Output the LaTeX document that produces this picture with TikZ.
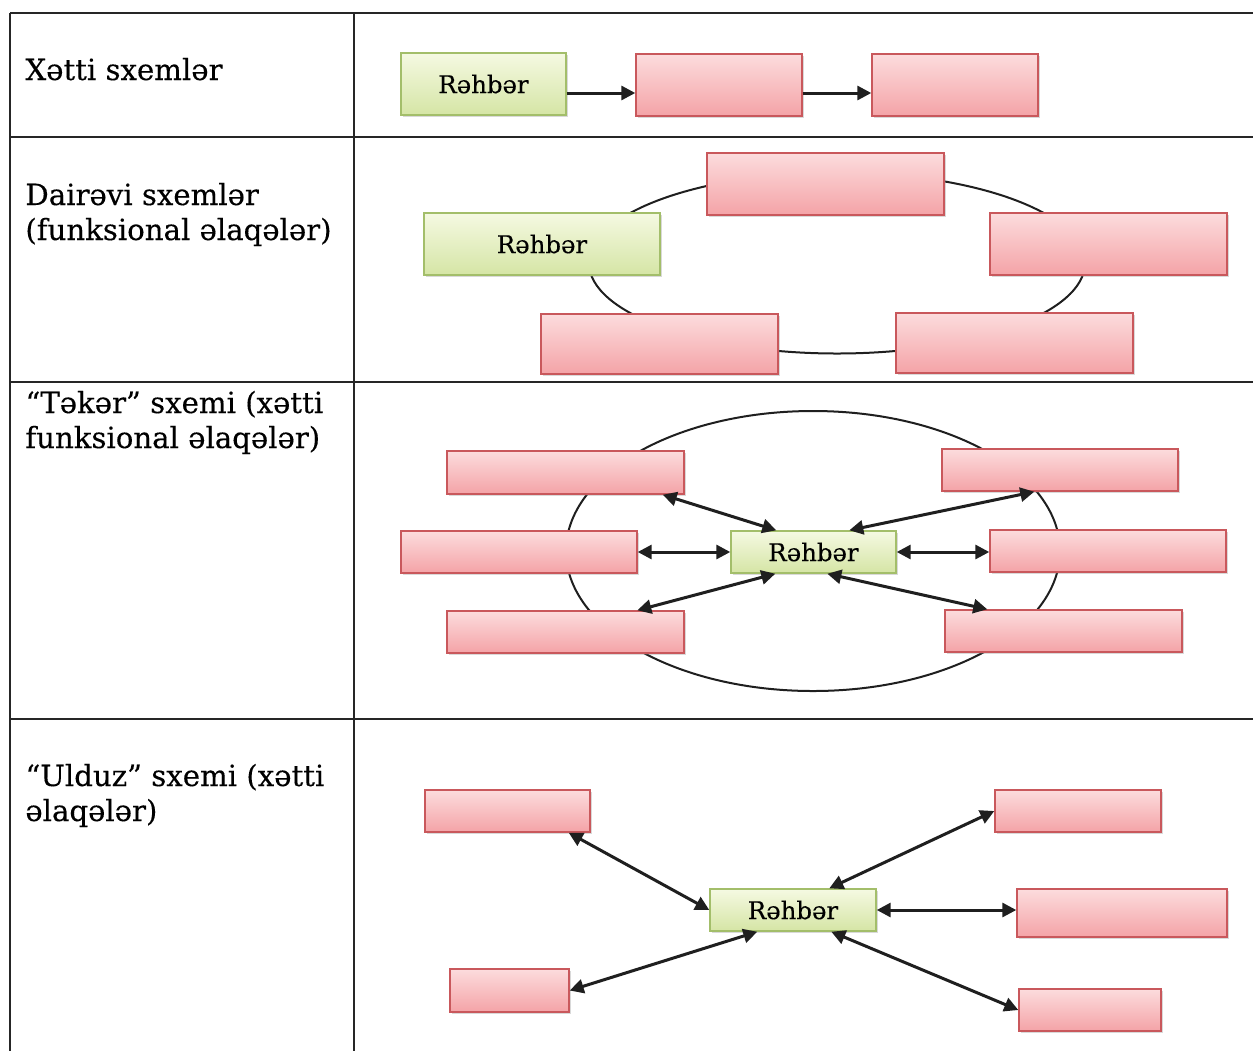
\documentclass[tikz,border=0pt]{standalone}
\usepackage{fontspec}
\setmainfont{DejaVu Serif}
\newfontfamily\heavyserif{DejaVu Serif}[FakeBold=0.3]
\usetikzlibrary{calc,arrows.meta,shadows}
\definecolor{pinkB}{HTML}{C9585C}
\definecolor{pinkT}{HTML}{FCDCDD}
\definecolor{pinkL}{HTML}{F4A3A7}
\definecolor{grnB}{HTML}{A3BE6A}
\definecolor{grnT}{HTML}{F5F9E2}
\definecolor{grnL}{HTML}{D5E5A5}
\tikzset{
  pbox/.style={draw=pinkB, line width=0.7pt, top color=pinkT, bottom color=pinkL, inner sep=0pt,
    drop shadow={shadow xshift=0.8pt, shadow yshift=-1.2pt, opacity=0.3}},
  gbox/.style={draw=grnB, line width=0.7pt, top color=grnT, bottom color=grnL, inner sep=0pt,
    font=\heavyserif\fontsize{12.2}{14}\selectfont,
    drop shadow={shadow xshift=0.8pt, shadow yshift=-1.2pt, opacity=0.3}},
  conn/.style={line width=1.5pt, black!88, {Triangle[length=7pt,width=7pt]}-{Triangle[length=7pt,width=7pt]}},
  oneway/.style={line width=1.5pt, black!88, -{Triangle[length=7pt,width=7pt]}},
  ring/.style={line width=1pt, black!88},
  grid/.style={line width=1pt, black!85},
  lbl/.style={anchor=base west, inner sep=0pt, align=left, font=\heavyserif\fontsize{14.6}{17.5}\selectfont}
}
\newcommand{\bx}[6]{% style, name, x1, y1, x2, y2
  \node[#1, minimum width={(#5-#3)*0.5pt}, minimum height={(#6-#4)*0.5pt}] (#2) at ({(#3+#5)/2},{(#4+#6)/2}) {};}
\newcommand{\gx}[6]{% name, x1, y1, x2, y2, text
  \node[gbox, minimum width={(#4-#2)*0.5pt}, minimum height={(#5-#3)*0.5pt}] (#1) at ({(#2+#4)/2},{(#3+#5)/2}) {#6};}
\begin{document}
\begin{tikzpicture}[x=0.5pt,y=-0.5pt]
\useasboundingbox (0,0) rectangle (1253,1051);
% table
\draw[grid] (10,13) -- (1253,13);
\draw[grid] (10,137) -- (1253,137);
\draw[grid] (10,382) -- (1253,382);
\draw[grid] (10,719) -- (1253,719);
\draw[grid] (10,13) -- (10,1051);
\draw[grid] (354,13) -- (354,1051);
% labels (base = baseline of last line)
\node[lbl] (t1) at (25,80) {Xətti sxemlər};
\node[lbl] (t2) at (25,240) {Dairəvi sxemlər\\(funksional əlaqələr)};
\node[lbl] (t3) at (25,448) {“Təkər” sxemi (xətti\\funksional əlaqələr)};
\node[lbl] (t4) at (25,821) {“Ulduz” sxemi (xətti\\əlaqələr)};
% row 1
\gx{g1}{401}{53}{566}{115}{Rəhbər}
\bx{pbox}{p11}{636}{54}{802}{116}
\bx{pbox}{p12}{872}{54}{1038}{116}
\coordinate (a1) at ($(g1.east)+(0,9)$);
\draw[oneway] (a1) -- (a1 -| p11.west);
\draw[oneway] (a1 -| p11.east) -- (a1 -| p12.west);
% row 2
\draw[ring] (837,263) ellipse [x radius=248, y radius=90.5];
\gx{g2}{424}{213}{660}{275}{Rəhbər}
\bx{pbox}{p21}{707}{153}{944}{215}
\bx{pbox}{p22}{990}{213}{1227}{275}
\bx{pbox}{p23}{541}{314}{778}{374}
\bx{pbox}{p24}{896}{313}{1133}{373}
% row 3
\draw[ring] (813,551) ellipse [x radius=247, y radius=140];
\gx{g3}{731}{531}{896}{573}{Rəhbər}
\bx{pbox}{p31}{447}{451}{684}{494}
\bx{pbox}{p32}{942}{449}{1178}{491}
\bx{pbox}{p33}{401}{531}{637}{573}
\bx{pbox}{p34}{990}{530}{1226}{572}
\bx{pbox}{p35}{447}{611}{684}{653}
\bx{pbox}{p36}{945}{610}{1182}{652}
\draw[conn] ($(p31.south east)+(-22,0)$) -- ($(g3.north west)+(46,0)$);
\draw[conn] ($(p32.south west)+(93,0)$) -- ($(g3.north west)+(119,0)$);
\draw[conn] (p33.east) -- (g3.west);
\draw[conn] (g3.east) -- (g3.east -| p34.west);
\draw[conn] ($(g3.south west)+(45,0)$) -- ($(p35.north west)+(191,0)$);
\draw[conn] ($(g3.south west)+(97,0)$) -- ($(p36.north west)+(43,0)$);
% row 4
\gx{g4}{710}{889}{876}{931}{Rəhbər}
\bx{pbox}{p41}{425}{790}{590}{832}
\bx{pbox}{p42}{995}{790}{1161}{832}
\bx{pbox}{p43}{1017}{889}{1227}{937}
\bx{pbox}{p44}{450}{969}{569}{1012}
\bx{pbox}{p45}{1019}{989}{1161}{1031}
\draw[conn] ($(p41.south east)+(-22,0)$) -- (g4.west);
\draw[conn] (p42.west) -- ($(g4.north west)+(120,0)$);
\draw[conn] (g4.east) -- (g4.east -| p43.west);
\draw[conn] (p44.east) -- ($(g4.south west)+(48,0)$);
\draw[conn] ($(g4.south west)+(122,0)$) -- (p45.west);
\end{tikzpicture}
\end{document}
